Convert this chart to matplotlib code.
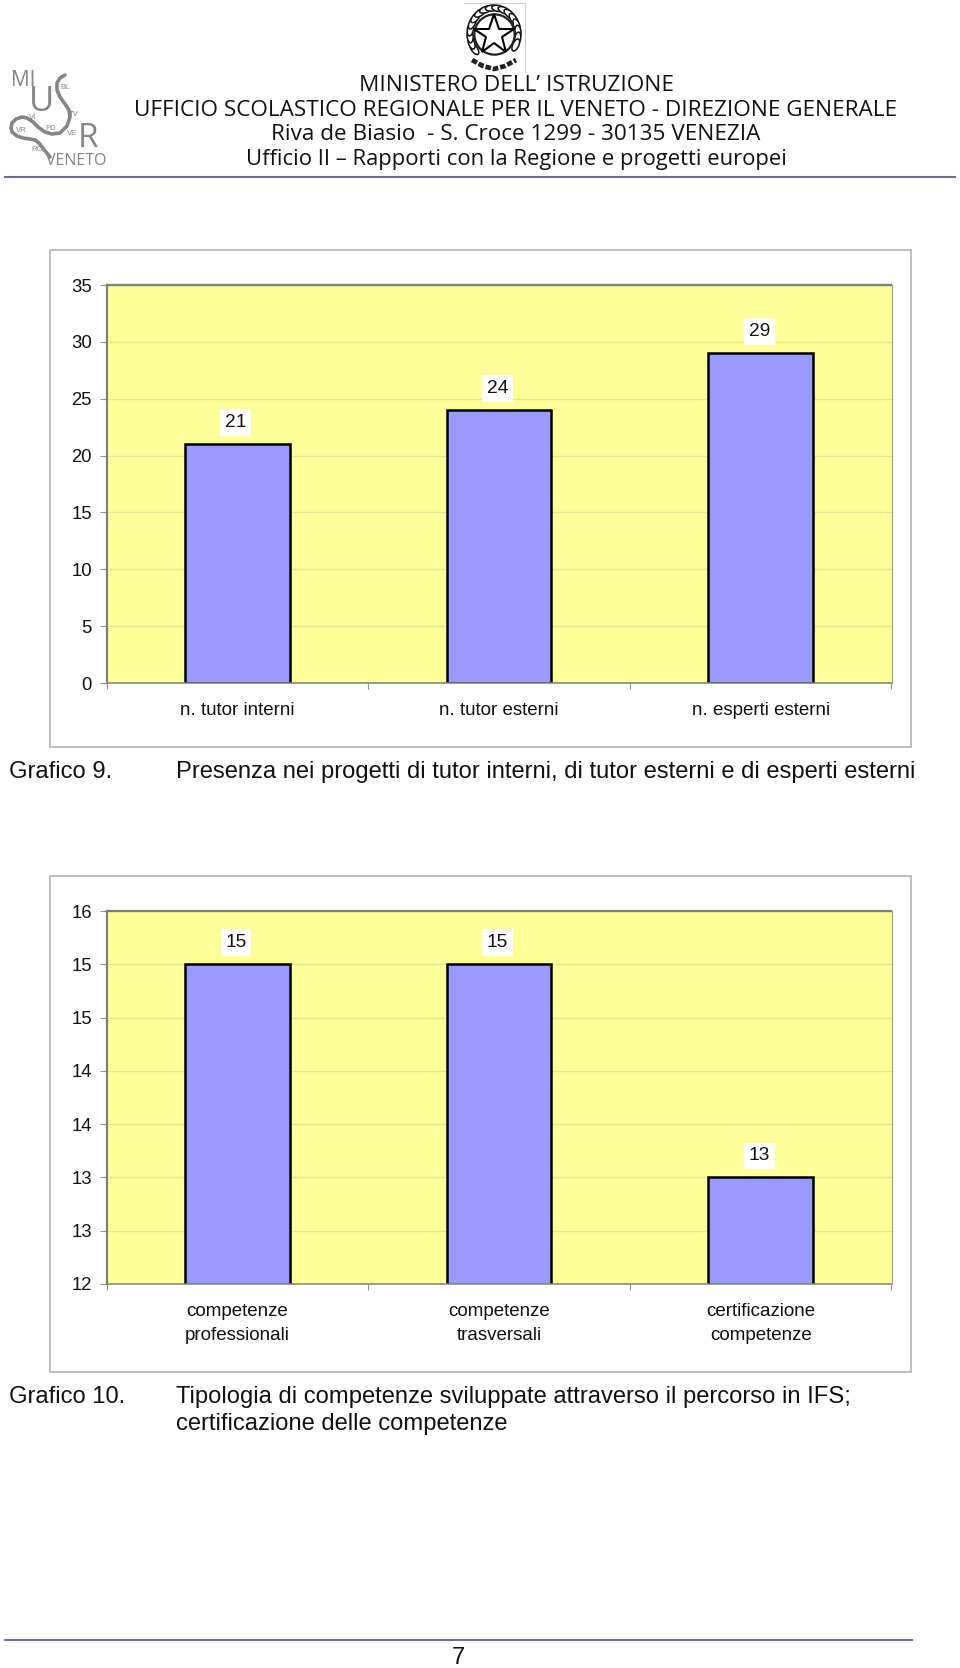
import numpy as np
import matplotlib
matplotlib.use("Agg")
import matplotlib.pyplot as plt
from matplotlib.patches import Rectangle, Ellipse

plt.rcParams['font.family'] = ['Liberation Sans', 'DejaVu Sans']

W, H = 960, 1668

# chart data
cats_9 = ["n. tutor interni", "n. tutor esterni", "n. esperti esterni"]
vals_9 = [21, 24, 29]
ticks_9 = [0, 5, 10, 15, 20, 25, 30, 35]

cats_10 = ["competenze\nprofessionali", "competenze\ntrasversali", "certificazione\ncompetenze"]
vals_10 = [15, 15, 13]
ticks_10 = [12, 12.5, 13, 13.5, 14, 14.5, 15, 15.5]
ticklabels_10 = ["12", "13", "13", "14", "14", "15", "15", "16"]

header_lines = ["MINISTERO DELL\u2019 ISTRUZIONE",
                "UFFICIO SCOLASTICO REGIONALE PER IL VENETO - DIREZIONE GENERALE",
                "Riva de Biasio  - S. Croce 1299 - 30135 VENEZIA",
                "Ufficio II \u2013 Rapporti con la Regione e progetti europei"]
header_y = [85, 110, 134, 159]
header_size = [16.2, 16.2, 16.2, 15.8]
head_font = ['Open Sans', 'DejaVu Sans']


def px_axes(fig, left, top, right, bottom):
    return fig.add_axes([left / W, 1 - bottom / H, (right - left) / W, (bottom - top) / H])


def bar_chart(fig, box, frame, cats, vals, ticks, ticklabels, ylim):
    # outer chart frame
    page.add_patch(Rectangle((frame[0], frame[1]), frame[2] - frame[0], frame[3] - frame[1],
                             fill=False, edgecolor='#b4b4b4', lw=1.2))
    ax = px_axes(fig, *box)
    ax.set_facecolor('#ffff99')
    x = np.arange(len(cats))
    ax.yaxis.grid(True, color='#e4e49a', lw=1)
    ax.set_axisbelow(True)
    bars = ax.bar(x, vals, width=0.4, color='#9999ff', edgecolor='black', lw=1.8)
    for b, v in zip(bars, vals):
        ax.annotate(str(v), (b.get_x() + b.get_width() / 2, v), xytext=(-1, 15.5), textcoords='offset points',
                    ha='center', va='center', fontsize=13.8, color='#111111',
                    bbox=dict(facecolor='white', edgecolor='none', pad=3.5))
    ax.set_xlim(-0.5, len(cats) - 0.5)
    ax.set_ylim(*ylim)
    ax.set_yticks(ticks)
    ax.set_yticklabels(ticklabels)
    ax.set_xticks(x)
    ax.set_xticklabels(cats, linespacing=1.52)
    ax.set_xticks(np.arange(len(cats) + 1) - 0.5, minor=True)
    ax.tick_params(axis='x', which='major', length=0, pad=14, labelsize=13.5, labelcolor='#111111')
    ax.tick_params(axis='x', which='minor', length=4, color='#909090', width=0.8)
    ax.tick_params(axis='y', length=5, color='#909090', width=0.8, pad=5.5, labelsize=13.3, labelcolor='#111111')
    for s in ['top', 'left']:
        ax.spines[s].set_color('#808070')
        ax.spines[s].set_linewidth(1.6)
    ax.spines['right'].set_color('#a0a090')
    ax.spines['right'].set_linewidth(0.9)
    ax.spines['bottom'].set_color('#808070')
    ax.spines['bottom'].set_linewidth(1.1)
    return ax


fig = plt.figure(figsize=(W / 100, H / 100), dpi=100, facecolor='white')

# page layer in pixel coords
page = fig.add_axes([0, 0, 1, 1])
page.set_xlim(0, W)
page.set_ylim(H, 0)
page.axis('off')

bar_chart(fig, (106.5, 285, 891.5, 683), (50, 250, 910.5, 747), cats_9, vals_9, ticks_9,
          [str(t) for t in ticks_9], (0, 35))
bar_chart(fig, (106.5, 911, 891.5, 1284), (50, 876, 910.5, 1372), cats_10, vals_10, ticks_10,
          ticklabels_10, (12, 15.5))

# header
for line, y, size in zip(header_lines, header_y, header_size):
    page.text(516, y, line, ha='center', va='center', fontsize=size, family=head_font, color='#111111')
page.plot([5, 955], [177, 177], color='#6f6f96', lw=1.5)

# crest, just a sketch of the emblem
page.plot([464, 525, 525], [3, 3, 72], color='#d0d0d0', lw=0.8)
cx, cy = 494, 34
for a in np.arange(-215, 40, 15):
    t = np.radians(a)
    page.add_patch(Ellipse((cx + 24 * np.cos(t), cy + 26 * np.sin(t)), 13, 6, angle=a + 90,
                           facecolor='white', edgecolor='#111111', lw=1.1))
page.plot([cx], [cy], marker='o', ms=29, mfc='white', mec='#222222', mew=1.6)
page.plot([cx], [cy + 1], marker='*', ms=30, mfc='white', mec='black', mew=1.5)
page.plot([472, 483, 494, 505, 516], [60, 66, 69, 66, 60], color='#222222', lw=3.4, ls=(0, (1.2, 0.4)))

# USR logo
grey = '#858585'
page.plot([65, 60, 57, 57, 60, 65, 69, 70, 67, 60, 52, 45, 38, 33, 27, 22, 16, 12, 11, 12, 17, 23, 30, 35, 39, 42, 46, 50],
          [75, 78, 83, 90, 97, 104, 110, 117, 126, 133, 134, 132, 127, 122, 118, 117, 119, 123, 128, 132, 136, 138, 139, 140, 143, 147, 152, 157],
          color=grey, lw=2.6, solid_joinstyle='round', solid_capstyle='round')
page.text(23.5, 80, "MI", fontsize=15, color=grey, va='center', ha='center', family=head_font)
page.text(42, 102, "U", fontsize=25, color=grey, va='center', ha='center', family=head_font)
page.text(88, 138, "R", fontsize=24, color=grey, va='center', ha='center', family=head_font)
page.text(76, 161, "VENETO", fontsize=11.5, color=grey, va='center', ha='center', family=head_font)
for s, lx, ly in [("BL", 65, 87), ("TV", 74, 114), ("VI", 33, 117), ("VR", 21, 130),
                  ("PD", 51, 128), ("VE", 72, 133), ("RO", 37, 149)]:
    page.text(lx, ly, s, fontsize=5.5, color=grey, ha='center', va='center')

# captions
page.text(9, 772, "Grafico 9.", fontsize=17.1, va='center', color='#111111')
page.text(176, 772, "Presenza nei progetti di tutor interni, di tutor esterni e di esperti esterni",
          fontsize=17.1, va='center', color='#111111')
page.text(9, 1397, "Grafico 10.", fontsize=17.1, va='center', color='#111111')
page.text(176, 1397, "Tipologia di competenze sviluppate attraverso il percorso in IFS;",
          fontsize=17.1, va='center', color='#111111')
page.text(176, 1424, "certificazione delle competenze", fontsize=17.1, va='center', color='#111111')

# footer
page.plot([5, 912], [1640, 1640], color='#6f6f96', lw=1.5)
page.text(458, 1658, "7", fontsize=17, ha='center', va='center', color='#111111')

fig.savefig("out.png", dpi=100)
